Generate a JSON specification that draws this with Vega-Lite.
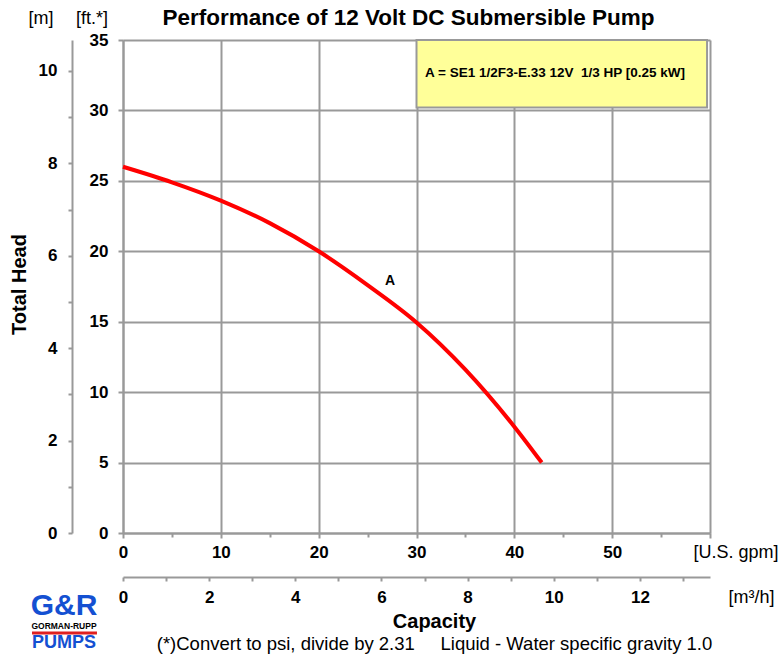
{
  "$schema": "https://vega.github.io/schema/vega-lite/v6.json",
  "width": 587,
  "height": 493,
  "autosize": {"type": "none"},
  "padding": {"left": 123, "top": 40, "right": 69, "bottom": 123},
  "background": "white",
  "config": {
    "view": {"stroke": null},
    "font": "Liberation Sans",
    "axis": {
      "labelFont": "Liberation Sans",
      "labelFontWeight": "bold",
      "labelFontSize": 17,
      "labelColor": "black",
      "domainColor": "#999999",
      "domainWidth": 2,
      "tickColor": "#999999",
      "tickWidth": 2,
      "gridColor": "#999999",
      "gridWidth": 2,
      "gridOpacity": 1,
      "titleFont": "Liberation Sans",
      "titleColor": "black",
      "titleFontWeight": "normal",
      "titleFontSize": 18,
      "titleBaseline": "middle",
      "titleAlign": "center",
      "labelOverlap": false,
      "labelFlush": false,
      "labelBound": false
    }
  },
  "datasets": {
    "curve": [
      {"gpm": 0, "ft": 26.0},
      {"gpm": 5, "ft": 24.9},
      {"gpm": 10, "ft": 23.6},
      {"gpm": 15, "ft": 22.0},
      {"gpm": 20, "ft": 20.0},
      {"gpm": 25, "ft": 17.6},
      {"gpm": 30, "ft": 14.95},
      {"gpm": 35, "ft": 11.6},
      {"gpm": 40, "ft": 7.55},
      {"gpm": 42.8, "ft": 5.0}
    ],
    "label": [{"gpm": 27.3, "ft": 17.9, "text": "A"}],
    "legend": [
      {"x1": 30, "x2": 59.7, "y1": 30.2, "y2": 35, "tx": 30.87, "ty": 32.66, "text": "A = SE1 1/2F3-E.33 12V\u00a0\u00a01/3 HP [0.25 kW]"}
    ],
    "logo": [
      {"part": "GR", "text": "G&R", "x": -6.03, "y": -5.18},
      {"part": "name", "text": "GORMAN-RUPP", "x": -6.03, "y": -6.6},
      {"part": "pumps", "text": "PUMPS", "x": -6.03, "y": -7.81}
    ],
    "logobar": [{"x1": -9.3, "x2": -2.66, "y": -7.1}]
  },
  "layer": [
    {
      "data": {"name": "curve"},
      "mark": {"type": "line", "color": "#ff0000", "strokeWidth": 4, "interpolate": "monotone"},
      "encoding": {
        "x": {
          "field": "gpm", "type": "quantitative",
          "scale": {"domain": [0, 60], "nice": false},
          "axis": {
            "orient": "bottom", "values": [0, 10, 20, 30, 40, 50, 60],
            "grid": true, "tickSize": 5, "labelPadding": 6,
            "labelExpr": "datum.value == 60 ? '' : datum.label",
            "title": "[U.S. gpm]", "titleX": 570, "titleY": 19, "titleAlign": "left", "titleAngle": 0
          }
        },
        "y": {
          "field": "ft", "type": "quantitative",
          "scale": {"domain": [0, 35], "nice": false},
          "axis": {
            "orient": "left", "values": [0, 5, 10, 15, 20, 25, 30, 35],
            "grid": true, "tickSize": 5, "labelPadding": 10,
            "title": "[ft.*]", "titleX": -31.5, "titleY": -22, "titleAngle": 0
          }
        }
      }
    },
    {
      "data": {"name": "label"},
      "mark": {"type": "text", "fontSize": 14, "fontWeight": "bold", "color": "black", "font": "Liberation Sans"},
      "encoding": {
        "text": {"field": "text"},
        "x": {
          "field": "gpm", "type": "quantitative",
          "scale": {"domain": [0, 60], "nice": false},
          "axis": {
            "orient": "bottom", "values": [5, 15, 25, 35, 45, 55],
            "grid": false, "domain": false, "labels": false, "tickSize": 4,
            "title": "Capacity", "titleFontWeight": "bold", "titleFontSize": 20, "titleAngle": 0,
            "titleX": 311, "titleY": 88
          }
        },
        "y": {
          "field": "ft", "type": "quantitative",
          "scale": {"domain": [0, 35], "nice": false},
          "axis": {
            "orient": "left", "offset": 51,
            "values": [0, 3.28084, 6.56168, 9.84252, 13.12336, 16.4042, 19.68504, 22.96588, 26.24672, 29.52756, 32.8084],
            "labelExpr": "round(datum.value / 3.28084) % 2 == 0 ? format(round(datum.value / 3.28084), 'd') : ''",
            "grid": false, "tickSize": 4, "labelPadding": 11,
            "title": "[m]", "titleX": -31.5, "titleY": -22, "titleAngle": 0
          }
        }
      }
    },
    {
      "data": {"name": "legend"},
      "mark": {"type": "rect", "fill": "#ffff99", "stroke": "#999999", "strokeWidth": 2},
      "encoding": {
        "x": {
          "field": "x1", "type": "quantitative",
          "scale": {"domain": [0, 60], "nice": false},
          "axis": {
            "orient": "bottom", "offset": 44,
            "values": [0, 4.40287, 8.80574, 13.20861, 17.61148, 22.01435, 26.41722, 30.82009, 35.22296, 39.62583, 44.0287, 48.43157, 52.83444, 57.23731],
            "labelExpr": "round(datum.value / 4.40287) % 2 == 0 ? format(round(datum.value / 4.40287), 'd') : ''",
            "grid": false, "tickSize": 4, "labelPadding": 8,
            "title": "[m\u00b3/h]", "titleX": 605, "titleY": 20, "titleAlign": "left", "titleAngle": 0
          }
        },
        "x2": {"field": "x2"},
        "y": {
          "field": "y1", "type": "quantitative",
          "scale": {"domain": [0, 35], "nice": false},
          "axis": {
            "orient": "left", "grid": false, "domain": false, "ticks": false, "labels": false,
            "title": "Total Head", "titleFontWeight": "bold", "titleFontSize": 20,
            "titleAngle": 270, "titleX": -104, "titleY": 244
          }
        },
        "y2": {"field": "y2"}
      }
    },
    {
      "data": {"name": "legend"},
      "mark": {"type": "text", "fontSize": 13.5, "fontWeight": "bold", "color": "black", "align": "left", "baseline": "middle", "font": "Liberation Sans"},
      "encoding": {
        "text": {"field": "text"},
        "x": {
          "field": "tx", "type": "quantitative",
          "scale": {"domain": [0, 60], "nice": false},
          "axis": {
            "orient": "bottom", "grid": false, "domain": false, "ticks": false, "labels": false,
            "title": "(*)Convert to psi, divide by 2.31\u00a0\u00a0\u00a0\u00a0\u00a0Liquid - Water specific gravity 1.0",
            "titleFontSize": 18.5, "titleX": 311, "titleY": 110, "titleAngle": 0
          }
        },
        "y": {
          "field": "ty", "type": "quantitative",
          "scale": {"domain": [0, 35], "nice": false},
          "axis": null
        }
      }
    },
    {
      "data": {"name": "logo"},
      "mark": {"type": "text", "fontWeight": "bold", "font": "Liberation Sans", "baseline": "middle", "align": "center"},
      "encoding": {
        "text": {"field": "text"},
        "color": {"field": "part", "type": "nominal", "scale": {"type": "ordinal", "domain": ["GR", "name", "pumps"], "range": ["#1450d2", "#000000", "#1450d2"]}, "legend": null},
        "size": {"field": "part", "type": "ordinal", "scale": {"type": "ordinal", "domain": ["GR", "name", "pumps"], "range": [30, 8.5, 18]}, "legend": null},
        "x": {
          "field": "x", "type": "quantitative",
          "scale": {"domain": [0, 60], "nice": false},
          "axis": {
            "orient": "top", "grid": false, "domain": false, "ticks": false, "labels": false,
            "title": "Performance of 12 Volt DC Submersible Pump",
            "titleFontWeight": "bold", "titleFontSize": 22.5, "titleX": 285, "titleY": -23, "titleAngle": 0
          }
        },
        "y": {
          "field": "y", "type": "quantitative",
          "scale": {"domain": [0, 35], "nice": false},
          "axis": null
        }
      }
    },
    {
      "data": {"name": "logobar"},
      "mark": {"type": "rule", "color": "#e02020", "strokeWidth": 3},
      "encoding": {
        "x": {"field": "x1", "type": "quantitative", "scale": {"domain": [0, 60], "nice": false}, "axis": null},
        "x2": {"field": "x2"},
        "y": {"field": "y", "type": "quantitative", "scale": {"domain": [0, 35], "nice": false}, "axis": null}
      }
    }
  ],
  "resolve": {"axis": {"x": "independent", "y": "independent"}}
}
